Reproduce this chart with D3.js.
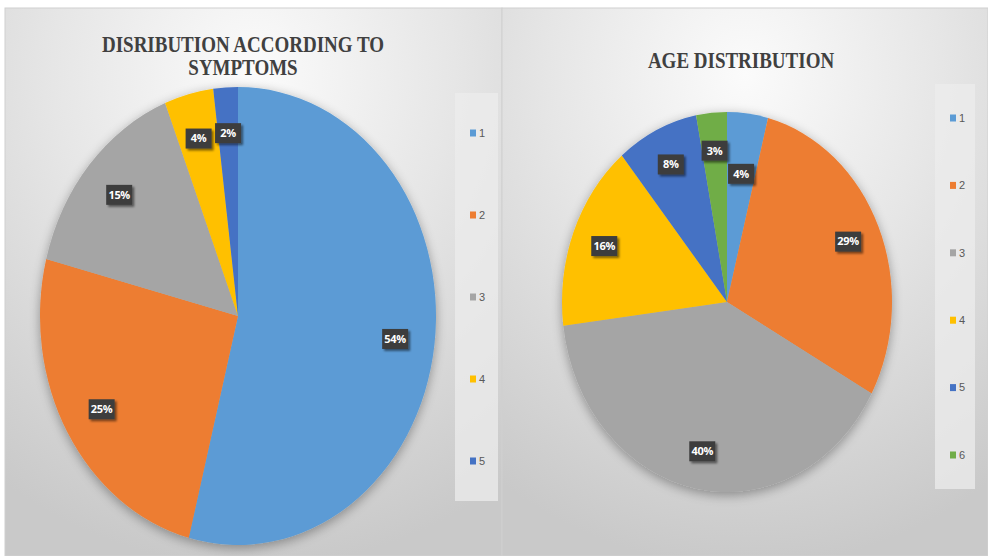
<!DOCTYPE html>
<html>
<head>
<meta charset="utf-8">
<script src="https://cdnjs.cloudflare.com/ajax/libs/d3/7.8.5/d3.min.js"></script>
<style>
body { margin: 0; background: #fff; }
svg { display: block; }
</style>
</head>
<body>
<div id="chart"></div>
<script>
// symptoms chart
var symptomCats = ["1", "2", "3", "4", "5"];
var symptomVals = [54, 25, 15, 4, 2];
// age chart
var ageCats = ["1", "2", "3", "4", "5", "6"];
var ageVals = [4, 29, 40, 16, 8, 3];

var colors = ["#5b9bd5", "#ed7d31", "#a5a5a5", "#ffc000", "#4472c4", "#70ad47"];

var W = 988, H = 556;
var svg = d3.select("#chart").append("svg")
    .attr("width", W)
    .attr("height", H);

var defs = svg.append("defs");
var grad = defs.append("radialGradient")
    .attr("id", "bg")
    .attr("cx", "50%").attr("cy", "12%")
    .attr("r", "90%");
grad.append("stop").attr("offset", "0%").attr("stop-color", "#fbfbfb");
grad.append("stop").attr("offset", "45%").attr("stop-color", "#e6e6e6");
grad.append("stop").attr("offset", "100%").attr("stop-color", "#c9c9c9");

var shadow = defs.append("filter").attr("id", "pieShadow")
    .attr("x", "-20%").attr("y", "-20%").attr("width", "140%").attr("height", "140%");
shadow.append("feGaussianBlur").attr("in", "SourceAlpha").attr("stdDeviation", 6);
shadow.append("feOffset").attr("dx", 0).attr("dy", 3).attr("result", "b");
shadow.append("feComponentTransfer").append("feFuncA").attr("type", "linear").attr("slope", 0.35);
var m = shadow.append("feMerge");
m.append("feMergeNode");
m.append("feMergeNode").attr("in", "SourceGraphic");

var lblShadow = defs.append("filter").attr("id", "lblShadow")
    .attr("x", "-30%").attr("y", "-30%").attr("width", "170%").attr("height", "170%");
lblShadow.append("feGaussianBlur").attr("in", "SourceAlpha").attr("stdDeviation", 1.2);
lblShadow.append("feOffset").attr("dx", 2).attr("dy", 2).attr("result", "b");
lblShadow.append("feComponentTransfer").append("feFuncA").attr("type", "linear").attr("slope", 0.5);
var m2 = lblShadow.append("feMerge");
m2.append("feMergeNode");
m2.append("feMergeNode").attr("in", "SourceGraphic");

var LW = 26, LH = 20;

function drawPanel(opt) {
    var g = svg.append("g").attr("transform", "translate(" + opt.x + "," + opt.y + ")");
    g.append("rect")
        .attr("width", opt.w).attr("height", opt.h)
        .attr("fill", "url(#bg)")
        .attr("stroke", "#d0d0d0");

    // title is a little stretched vertically in the original
    var title = g.append("text")
        .attr("text-anchor", "middle")
        .attr("transform", "translate(" + opt.titleX + "," + opt.titleY + ") scale(1,1.18)")
        .attr("font-family", "Liberation Serif, Times New Roman, serif")
        .attr("font-weight", "bold")
        .attr("font-size", 19)
        .attr("fill", "#404040");
    opt.title.forEach(function(line, i) {
        title.append("tspan")
            .attr("x", 0)
            .attr("y", i * 19.5)
            .text(line);
    });

    var pie = d3.pie().sort(null).value(function(d) { return d; });
    var arcs = pie(opt.values);
    var arc = d3.arc().innerRadius(0).outerRadius(opt.ry);
    var sx = opt.rx / opt.ry;

    var pg = g.append("g")
        .attr("transform", "translate(" + opt.cx + "," + opt.cy + ") scale(" + sx + ",1)")
        .attr("filter", "url(#pieShadow)");
    pg.selectAll("path").data(arcs).enter().append("path")
        .attr("d", arc)
        .attr("fill", function(d, i) { return colors[i]; });

    // label positions: on the mid angle, pulled inwards when two boxes collide
    var placed = [];
    var pos = [];
    for (var i = arcs.length - 1; i >= 0; i--) {
        var f = opt.lf, c;
        while (true) {
            var a = d3.arc().innerRadius(opt.ry * f).outerRadius(opt.ry * f);
            c = a.centroid(arcs[i]);
            c = [c[0] * sx, c[1]];
            var hit = placed.some(function(p) {
                return Math.abs(p[0] - c[0]) < LW + 3 && Math.abs(p[1] - c[1]) < LH + 3;
            });
            if (!hit || f < 0.3) break;
            f -= 0.02;
        }
        placed.push(c);
        pos[i] = c;
    }

    var lg = g.append("g").attr("transform", "translate(" + opt.cx + "," + opt.cy + ")");
    var lbl = lg.selectAll("g.lbl").data(arcs).enter().append("g")
        .attr("class", "lbl")
        .attr("transform", function(d, i) {
            return "translate(" + pos[i][0] + "," + pos[i][1] + ")";
        });
    lbl.append("rect")
        .attr("x", -LW / 2).attr("y", -LH / 2)
        .attr("width", LW).attr("height", LH)
        .attr("fill", "#3d3d3d")
        .attr("filter", "url(#lblShadow)");
    lbl.append("text")
        .attr("text-anchor", "middle")
        .attr("dy", "0.35em")
        .attr("font-family", "Open Sans, Liberation Sans, sans-serif")
        .attr("font-weight", "bold")
        .attr("font-size", 11)
        .attr("letter-spacing", -0.3)
        .attr("fill", "#fff")
        .text(function(d) { return Math.round(d.value) + "%"; });

    // legend
    var leg = g.append("g");
    leg.append("rect")
        .attr("x", opt.legX).attr("y", opt.legY)
        .attr("width", opt.legW).attr("height", opt.legH)
        .attr("fill", "#ececec")
        .attr("opacity", 0.75);
    var ly = d3.scalePoint().domain(opt.cats)
        .range([opt.legY + opt.legPad, opt.legY + opt.legH - opt.legPad]);
    var item = leg.selectAll("g.item").data(opt.cats).enter().append("g")
        .attr("transform", function(d) { return "translate(" + (opt.legX + 15) + "," + ly(d) + ")"; });
    item.append("rect")
        .attr("x", 0).attr("y", -3.5)
        .attr("width", 6).attr("height", 7)
        .attr("fill", function(d, i) { return colors[i]; });
    item.append("text")
        .attr("x", 9).attr("dy", "0.35em")
        .attr("font-family", "Liberation Sans Narrow, Liberation Sans, sans-serif")
        .attr("font-size", 11)
        .attr("fill", "#595959")
        .text(function(d) { return d; });
}

drawPanel({
    x: 5, y: 8, w: 497, h: 548,
    title: ["DISRIBUTION ACCORDING TO", "SYMPTOMS"],
    titleX: 238, titleY: 44,
    values: symptomVals, cats: symptomCats,
    cx: 233, cy: 308, rx: 198, ry: 229, lf: 0.8,
    legX: 450, legY: 85, legW: 43, legH: 408, legPad: 40
});

drawPanel({
    x: 502, y: 8, w: 486, h: 548,
    title: ["AGE DISTRIBUTION"],
    titleX: 239, titleY: 60,
    values: ageVals, cats: ageCats,
    cx: 225, cy: 294, rx: 165, ry: 190, lf: 0.8,
    legX: 433, legY: 76, legW: 40, legH: 405, legPad: 34
});
</script>
</body>
</html>
